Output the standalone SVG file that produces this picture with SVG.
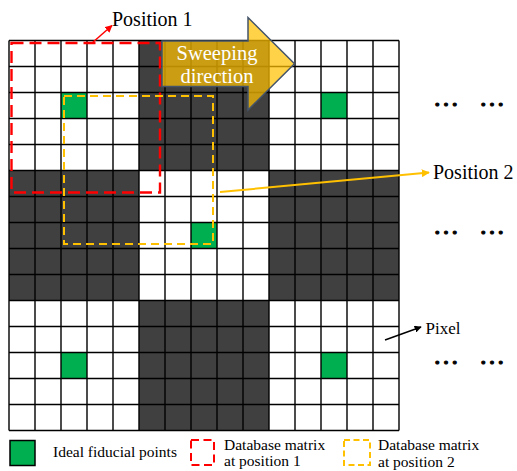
<svg xmlns="http://www.w3.org/2000/svg" width="517" height="471" viewBox="0 0 517 471">
  <style>
    .lbl { font-family: "Liberation Serif", "Times New Roman", serif; fill: #000; }
    .dark { fill: #404040; }
    .fid { fill: #00b050; }
    .grid { fill: none; stroke: #000; stroke-width: 1.4; }
    .pos1 { fill: none; stroke: #ff0000; stroke-width: 2.4; stroke-dasharray: 12 6; }
    .pos2 { fill: none; stroke: #ffc000; stroke-width: 2; stroke-dasharray: 8 5; }
    .dots { font-family: "Liberation Serif", "Times New Roman", serif; font-size: 26px; fill: #000; stroke: #000; stroke-width: 1.2; }
  </style>
  <defs>
    <marker id="headRed" viewBox="0 0 10 10" refX="9" refY="5" markerWidth="5" markerHeight="5" markerUnits="strokeWidth" orient="auto">
      <path d="M0,0 L10,5 L0,10 Z" fill="#ff0000"/>
    </marker>
    <marker id="headGold" viewBox="0 0 10 10" refX="9" refY="5" markerWidth="4" markerHeight="4" markerUnits="strokeWidth" orient="auto">
      <path d="M0,0 L10,5 L0,10 Z" fill="#ffc000"/>
    </marker>
    <marker id="headBlack" viewBox="0 0 10 10" refX="9" refY="5" markerWidth="5" markerHeight="5" markerUnits="strokeWidth" orient="auto">
      <path d="M0,0 L10,5 L0,10 Z" fill="#000"/>
    </marker>
  </defs>

  <rect width="517" height="471" fill="#fff"/>

  <!-- pixel matrix: 15 x 15 cells of 26 px -->
  <g id="pixel-matrix">
    <rect x="9" y="40.5" width="390" height="390" fill="#fff"/>
    <rect class="dark" x="139" y="40.5" width="130" height="130"/>
    <rect class="dark" x="9" y="170.5" width="130" height="130"/>
    <rect class="dark" x="269" y="170.5" width="130" height="130"/>
    <rect class="dark" x="139" y="300.5" width="130" height="130"/>
    <rect class="fid" x="61" y="92.5" width="26" height="26"/>
    <rect class="fid" x="321" y="92.5" width="26" height="26"/>
    <rect class="fid" x="191" y="222.5" width="26" height="26"/>
    <rect class="fid" x="61" y="352.5" width="26" height="26"/>
    <rect class="fid" x="321" y="352.5" width="26" height="26"/>
    <path class="grid" d="M9 40.5V430.5M35 40.5V430.5M61 40.5V430.5M87 40.5V430.5M113 40.5V430.5M139 40.5V430.5M165 40.5V430.5M191 40.5V430.5M217 40.5V430.5M243 40.5V430.5M269 40.5V430.5M295 40.5V430.5M321 40.5V430.5M347 40.5V430.5M373 40.5V430.5M399 40.5V430.5M9 40.5H399M9 66.5H399M9 92.5H399M9 118.5H399M9 144.5H399M9 170.5H399M9 196.5H399M9 222.5H399M9 248.5H399M9 274.5H399M9 300.5H399M9 326.5H399M9 352.5H399M9 378.5H399M9 404.5H399M9 430.5H399"/>
  </g>

  <!-- database matrix windows -->
  <g id="window-position-1">
    <rect class="pos1" x="11.5" y="43" width="148.5" height="149.5"/>
  </g>
  <g id="window-position-2">
    <rect class="pos2" x="64" y="96" width="149" height="148"/>
  </g>

  <!-- sweeping direction block arrow -->
  <g id="sweep-arrow">
    <path d="M162,41 H248 V17.5 L294.5,63.75 L248,110 V86.5 H162 Z" fill="#ffc000" fill-opacity="0.72" stroke="#44546a" stroke-width="1.5" stroke-linejoin="miter"/>
    <text class="lbl" x="217" y="60" font-size="20.5" text-anchor="middle" style="fill:#fff">Sweeping</text>
    <text class="lbl" x="217" y="83" font-size="20.5" text-anchor="middle" style="fill:#fff">direction</text>
  </g>

  <!-- callout labels -->
  <g id="label-position-1">
    <text class="lbl" x="112" y="26" font-size="20">Position 1</text>
  </g>
  <g id="label-position-2">
    <text class="lbl" x="433" y="179" font-size="20">Position 2</text>
  </g>
  <g id="label-pixel">
    <text class="lbl" x="425.5" y="334" font-size="17">Pixel</text>
  </g>

  <g id="connectors">
    <line x1="92" y1="43" x2="112" y2="25.5" stroke="#ff0000" stroke-width="1.5" marker-end="url(#headRed)"/>
    <line x1="220" y1="192" x2="429" y2="172.5" stroke="#ffc000" stroke-width="2" marker-end="url(#headGold)"/>
    <line x1="385" y1="340" x2="421" y2="327" stroke="#000" stroke-width="1.4" marker-end="url(#headBlack)"/>
  </g>

  <!-- continuation marks -->
  <g id="continuation">
    <text class="dots" x="433" y="105.5">…</text>
    <text class="dots" x="479" y="105.5">…</text>
    <text class="dots" x="433" y="234">…</text>
    <text class="dots" x="479" y="234">…</text>
    <text class="dots" x="433" y="363.5">…</text>
    <text class="dots" x="479" y="363.5">…</text>
  </g>

  <!-- legend -->
  <g id="legend-fiducial">
    <rect x="10" y="440.5" width="25" height="25" fill="#00b050" stroke="#000" stroke-width="1.5"/>
    <text class="lbl" x="53" y="457" font-size="15.5">Ideal fiducial points</text>
  </g>
  <g id="legend-position-1">
    <rect x="191" y="440" width="23" height="25" fill="none" stroke="#ff0000" stroke-width="2" stroke-dasharray="8 4.5"/>
    <text class="lbl" x="224" y="449.5" font-size="15.5">Database matrix</text>
    <text class="lbl" x="224" y="466" font-size="15.5">at position 1</text>
  </g>
  <g id="legend-position-2">
    <rect x="344" y="440" width="26" height="25" fill="none" stroke="#ffc000" stroke-width="2" stroke-dasharray="6 3.5"/>
    <text class="lbl" x="378" y="449.5" font-size="15.5">Database matrix</text>
    <text class="lbl" x="378" y="466.5" font-size="15.5">at position 2</text>
  </g>
</svg>
